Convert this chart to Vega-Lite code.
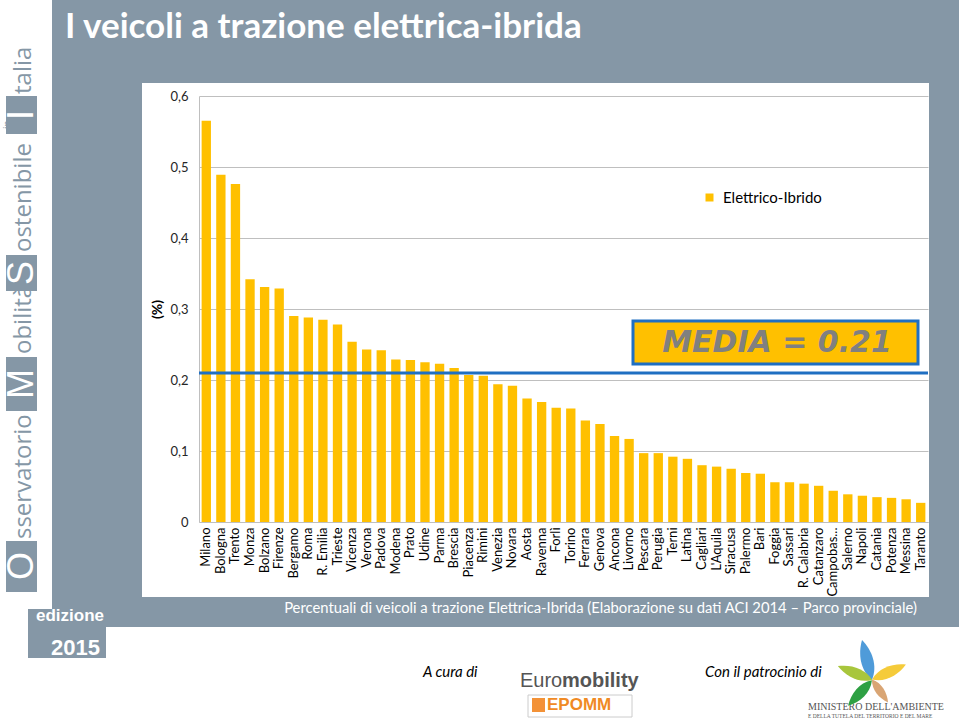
{
  "$schema": "https://vega.github.io/schema/vega-lite/v6.json",
  "width": 729,
  "height": 426,
  "autosize": "none",
  "padding": {"left": 199, "top": 96, "right": 31, "bottom": 197},
  "background": "white",
  "config": {"view": {"stroke": null}, "font": "Lato"},
  "title": {
    "text": "I veicoli a trazione elettrica-ibrida",
    "anchor": "start",
    "frame": "group",
    "dx": -134,
    "offset": -80,
    "baseline": "bottom",
    "color": "white",
    "font": "Lato",
    "fontSize": 35,
    "fontWeight": "bold",
    "zindex": 1
  },
  "data": {
    "values": [
      {"citta": "Milano", "valore": 0.565},
      {"citta": "Bologna", "valore": 0.489},
      {"citta": "Trento", "valore": 0.476},
      {"citta": "Monza", "valore": 0.342},
      {"citta": "Bolzano", "valore": 0.331},
      {"citta": "Firenze", "valore": 0.329},
      {"citta": "Bergamo", "valore": 0.29},
      {"citta": "Roma", "valore": 0.288},
      {"citta": "R. Emilia", "valore": 0.285},
      {"citta": "Trieste", "valore": 0.278},
      {"citta": "Vicenza", "valore": 0.254},
      {"citta": "Verona", "valore": 0.243},
      {"citta": "Padova", "valore": 0.242},
      {"citta": "Modena", "valore": 0.229},
      {"citta": "Prato", "valore": 0.228},
      {"citta": "Udine", "valore": 0.225},
      {"citta": "Parma", "valore": 0.223},
      {"citta": "Brescia", "valore": 0.217},
      {"citta": "Piacenza", "valore": 0.207},
      {"citta": "Rimini", "valore": 0.206},
      {"citta": "Venezia", "valore": 0.194},
      {"citta": "Novara", "valore": 0.192},
      {"citta": "Aosta", "valore": 0.174},
      {"citta": "Ravenna", "valore": 0.169},
      {"citta": "Forlì", "valore": 0.161},
      {"citta": "Torino", "valore": 0.16},
      {"citta": "Ferrara", "valore": 0.143},
      {"citta": "Genova", "valore": 0.138},
      {"citta": "Ancona", "valore": 0.121},
      {"citta": "Livorno", "valore": 0.117},
      {"citta": "Pescara", "valore": 0.097},
      {"citta": "Perugia", "valore": 0.097},
      {"citta": "Terni", "valore": 0.092},
      {"citta": "Latina", "valore": 0.089},
      {"citta": "Cagliari", "valore": 0.08},
      {"citta": "L'Aquila", "valore": 0.078},
      {"citta": "Siracusa", "valore": 0.075},
      {"citta": "Palermo", "valore": 0.069},
      {"citta": "Bari", "valore": 0.068},
      {"citta": "Foggia", "valore": 0.056},
      {"citta": "Sassari", "valore": 0.056},
      {"citta": "R. Calabria", "valore": 0.054},
      {"citta": "Catanzaro", "valore": 0.051},
      {"citta": "Campobasso", "valore": 0.044},
      {"citta": "Salerno", "valore": 0.039},
      {"citta": "Napoli", "valore": 0.037},
      {"citta": "Catania", "valore": 0.035},
      {"citta": "Potenza", "valore": 0.034},
      {"citta": "Messina", "valore": 0.032},
      {"citta": "Taranto", "valore": 0.027}
    ]
  },
  "layer": [
    {
      "data": {"values": [{}]},
      "mark": {"type": "rect", "color": "#8597A6", "clip": false},
      "encoding": {"x": {"value": -147}, "x2": {"value": 760}, "y": {"value": -96}, "y2": {"value": -13}}
    },
    {
      "data": {"values": [{}]},
      "mark": {"type": "rect", "color": "#8597A6", "clip": false},
      "encoding": {"x": {"value": -147}, "x2": {"value": -57}, "y": {"value": -13}, "y2": {"value": 531}}
    },
    {
      "data": {"values": [{}]},
      "mark": {"type": "rect", "color": "#8597A6", "clip": false},
      "encoding": {"x": {"value": 730}, "x2": {"value": 760}, "y": {"value": -13}, "y2": {"value": 531}}
    },
    {
      "data": {"values": [{}]},
      "mark": {"type": "rect", "color": "#8597A6", "clip": false},
      "encoding": {"x": {"value": -57}, "x2": {"value": 730}, "y": {"value": 501}, "y2": {"value": 531}}
    },
    {
      "data": {"values": [{}]},
      "mark": {"type": "rect", "color": "#8597A6", "clip": false},
      "encoding": {"x": {"value": -171}, "x2": {"value": -93}, "y": {"value": 513}, "y2": {"value": 562}}
    },
    {
      "mark": {"type": "bar"},
      "encoding": {
        "x": {
          "field": "citta",
          "type": "nominal",
          "sort": null,
          "scale": {"paddingInner": 0.36, "paddingOuter": 0.18},
          "axis": {
            "title": "Percentuali di veicoli a trazione Elettrica-Ibrida (Elaborazione su dati ACI 2014 – Parco provinciale)",
            "titleColor": "white",
            "titleFont": "Lato",
            "titleFontSize": 14.8,
            "titleFontWeight": "normal",
            "titleX": 401,
            "titleY": 86,
            "titleAlign": "center",
            "titleBaseline": "middle",
            "labelAngle": -90,
            "labelFontSize": 13,
            "labelColor": "black",
            "labelPadding": 5,
            "labelExpr": "datum.label == 'Campobasso' ? 'Campobas...' : datum.label",
            "ticks": false,
            "domainColor": "#BFBFBF",
            "grid": false,
            "zindex": 1
          }
        },
        "y": {
          "field": "valore",
          "type": "quantitative",
          "scale": {"domain": [0, 0.6], "nice": false},
          "axis": {
            "title": "(%)",
            "titleFontWeight": "bold",
            "titleFontSize": 14,
            "titleColor": "black",
            "titleX": -42,
            "titleY": 213,
            "titleAlign": "center",
            "titleBaseline": "middle",
            "values": [0, 0.1, 0.2, 0.3, 0.4, 0.5, 0.6],
            "labelExpr": "datum.value == 0 ? '0' : replace(format(datum.value, '.1f'), '.', ',')",
            "labelFontSize": 13,
            "labelColor": "#262626",
            "labelPadding": 11,
            "ticks": false,
            "domainColor": "#BFBFBF",
            "grid": true,
            "gridColor": "#BFBFBF"
          }
        },
        "color": {
          "datum": "Elettrico-Ibrido",
          "type": "nominal",
          "scale": {"range": ["#FFC000"]},
          "legend": {
            "title": null,
            "orient": "none",
            "legendX": 503,
            "legendY": 94,
            "padding": 0,
            "symbolType": "square",
            "symbolSize": 64,
            "symbolStrokeWidth": 0,
            "labelFont": "Lato",
            "labelFontSize": 15,
            "labelColor": "black",
            "labelOffset": 6
          }
        }
      }
    },
    {
      "data": {"values": [{}]},
      "mark": {"type": "rule", "color": "#1F6FC2", "strokeWidth": 3},
      "encoding": {"y": {"datum": 0.21}}
    },
    {
      "data": {"values": [{}]},
      "mark": {"type": "rect", "fill": "#FFC000", "stroke": "#1F6FC2", "strokeWidth": 3},
      "encoding": {"x": {"value": 434}, "x2": {"value": 719}, "y": {"value": 225}, "y2": {"value": 268}}
    },
    {
      "data": {"values": [{"testo": "MEDIA = 0.21"}]},
      "mark": {"type": "text", "font": "DejaVu Sans", "fontWeight": "bold", "fontStyle": "italic", "fontSize": 30, "color": "#808080", "align": "center", "baseline": "middle"},
      "encoding": {"text": {"field": "testo"}, "x": {"value": 578}, "y": {"value": 247}}
    },
    {
      "data": {"values": [{}]},
      "mark": {"type": "rect", "color": "#8597A6", "clip": false},
      "encoding": {"x": {"value": -193}, "x2": {"value": -162}, "y": {"value": 445}, "y2": {"value": 496}}
    },
    {
      "data": {"values": [{}]},
      "mark": {"type": "rect", "color": "#8597A6", "clip": false},
      "encoding": {"x": {"value": -193}, "x2": {"value": -162}, "y": {"value": 261}, "y2": {"value": 315}}
    },
    {
      "data": {"values": [{}]},
      "mark": {"type": "rect", "color": "#8597A6", "clip": false},
      "encoding": {"x": {"value": -193}, "x2": {"value": -162}, "y": {"value": 159}, "y2": {"value": 195}}
    },
    {
      "data": {"values": [{}]},
      "mark": {"type": "rect", "color": "#8597A6", "clip": false},
      "encoding": {"x": {"value": -193}, "x2": {"value": -162}, "y": {"value": 0}, "y2": {"value": 38}}
    },
    {
      "data": {"values": [{"t": "O"}]},
      "mark": {"type": "text", "font": "Liberation Sans", "fontSize": 36, "color": "white", "angle": -90, "align": "center", "baseline": "middle"},
      "encoding": {"text": {"field": "t"}, "x": {"value": -177}, "y": {"value": 470}}
    },
    {
      "data": {"values": [{"t": "M"}]},
      "mark": {"type": "text", "font": "Liberation Sans", "fontSize": 36, "color": "white", "angle": -90, "align": "center", "baseline": "middle"},
      "encoding": {"text": {"field": "t"}, "x": {"value": -177}, "y": {"value": 288}}
    },
    {
      "data": {"values": [{"t": "S"}]},
      "mark": {"type": "text", "font": "Liberation Sans", "fontSize": 36, "color": "white", "angle": -90, "align": "center", "baseline": "middle"},
      "encoding": {"text": {"field": "t"}, "x": {"value": -177}, "y": {"value": 177}}
    },
    {
      "data": {"values": [{"t": "I"}]},
      "mark": {"type": "text", "font": "Liberation Sans", "fontSize": 36, "color": "white", "angle": -90, "align": "center", "baseline": "middle"},
      "encoding": {"text": {"field": "t"}, "x": {"value": -177}, "y": {"value": 19}}
    },
    {
      "data": {"values": [{"t": "sservatorio"}]},
      "mark": {"type": "text", "font": "Open Sans", "fontSize": 24, "color": "#8597A6", "angle": -90, "align": "left", "baseline": "middle"},
      "encoding": {"text": {"field": "t"}, "x": {"value": -175}, "y": {"value": 443}}
    },
    {
      "data": {"values": [{"t": "obilità"}]},
      "mark": {"type": "text", "font": "Open Sans", "fontSize": 24, "color": "#8597A6", "angle": -90, "align": "left", "baseline": "middle"},
      "encoding": {"text": {"field": "t"}, "x": {"value": -175}, "y": {"value": 258}}
    },
    {
      "data": {"values": [{"t": "ostenibile"}]},
      "mark": {"type": "text", "font": "Open Sans", "fontSize": 24, "color": "#8597A6", "angle": -90, "align": "left", "baseline": "middle"},
      "encoding": {"text": {"field": "t"}, "x": {"value": -175}, "y": {"value": 156}}
    },
    {
      "data": {"values": [{"t": "in"}]},
      "mark": {"type": "text", "font": "Open Sans", "fontSize": 10, "color": "#8597A6", "angle": -90, "align": "left", "baseline": "middle"},
      "encoding": {"text": {"field": "t"}, "x": {"value": -191}, "y": {"value": 33}}
    },
    {
      "data": {"values": [{"t": "talia"}]},
      "mark": {"type": "text", "font": "Open Sans", "fontSize": 24, "color": "#8597A6", "angle": -90, "align": "left", "baseline": "middle"},
      "encoding": {"text": {"field": "t"}, "x": {"value": -175}, "y": {"value": -2}}
    },
    {
      "data": {"values": [{"t": "edizione"}]},
      "mark": {"type": "text", "font": "Liberation Sans", "fontSize": 17, "fontWeight": "bold", "color": "white", "align": "left", "baseline": "middle"},
      "encoding": {"text": {"field": "t"}, "x": {"value": -163}, "y": {"value": 520}}
    },
    {
      "data": {"values": [{"t": "2015"}]},
      "mark": {"type": "text", "font": "Liberation Sans", "fontSize": 22, "fontWeight": "bold", "color": "white", "align": "right", "baseline": "middle"},
      "encoding": {"text": {"field": "t"}, "x": {"value": -99}, "y": {"value": 552}}
    },
    {
      "data": {"values": [{"t": "A cura di"}]},
      "mark": {"type": "text", "font": "Lato", "fontSize": 15, "fontStyle": "italic", "color": "black", "align": "left", "baseline": "middle"},
      "encoding": {"text": {"field": "t"}, "x": {"value": 224}, "y": {"value": 576}}
    },
    {
      "data": {"values": [{"t": "Con il patrocinio di"}]},
      "mark": {"type": "text", "font": "Lato", "fontSize": 15, "fontStyle": "italic", "color": "black", "align": "left", "baseline": "middle"},
      "encoding": {"text": {"field": "t"}, "x": {"value": 506}, "y": {"value": 576}}
    },
    {
      "data": {"values": [{"t": "Euro"}]},
      "mark": {"type": "text", "font": "Liberation Sans", "fontSize": 20, "color": "#555555", "align": "left", "baseline": "middle"},
      "encoding": {"text": {"field": "t"}, "x": {"value": 321}, "y": {"value": 585}}
    },
    {
      "data": {"values": [{"t": "mobility"}]},
      "mark": {"type": "text", "font": "Liberation Sans", "fontSize": 20, "fontWeight": "bold", "color": "#555555", "align": "left", "baseline": "middle"},
      "encoding": {"text": {"field": "t"}, "x": {"value": 363}, "y": {"value": 585}}
    },
    {
      "data": {"values": [{}]},
      "mark": {"type": "rect", "fill": "white", "stroke": "#CCCCCC", "strokeWidth": 1},
      "encoding": {"x": {"value": 329}, "x2": {"value": 433}, "y": {"value": 599}, "y2": {"value": 621}}
    },
    {
      "data": {"values": [{}]},
      "mark": {"type": "rect", "fill": "#F39237"},
      "encoding": {"x": {"value": 333}, "x2": {"value": 346}, "y": {"value": 602}, "y2": {"value": 616}}
    },
    {
      "data": {"values": [{"t": "EPOMM"}]},
      "mark": {"type": "text", "font": "Liberation Sans", "fontSize": 17, "fontWeight": "bold", "color": "#F08A24", "align": "left", "baseline": "middle"},
      "encoding": {"text": {"field": "t"}, "x": {"value": 348}, "y": {"value": 609}}
    },
    {
      "data": {"values": [{"t": "MINISTERO DELL'AMBIENTE"}]},
      "mark": {"type": "text", "font": "Liberation Serif", "fontSize": 10, "color": "#555555", "align": "left", "baseline": "middle"},
      "encoding": {"text": {"field": "t"}, "x": {"value": 609}, "y": {"value": 611}}
    },
    {
      "data": {"values": [{"t": "E DELLA TUTELA DEL TERRITORIO E DEL MARE"}]},
      "mark": {"type": "text", "font": "Liberation Serif", "fontSize": 5.5, "color": "#555555", "align": "left", "baseline": "middle"},
      "encoding": {"text": {"field": "t"}, "x": {"value": 609}, "y": {"value": 620}}
    },
    {
      "data": {"values": [{}]},
      "mark": {"type": "point", "filled": true, "opacity": 1, "color": "#4F9BD9", "shape": "M0,1 C0.45,0.4 0.35,-0.4 0,-1 C-0.35,-0.4 -0.45,0.4 0,1 Z", "size": 1681, "angle": -14},
      "encoding": {"x": {"value": 668}, "y": {"value": 564}}
    },
    {
      "data": {"values": [{}]},
      "mark": {"type": "point", "filled": true, "opacity": 1, "color": "#F5CB3A", "shape": "M0,1 C0.45,0.4 0.35,-0.4 0,-1 C-0.35,-0.4 -0.45,0.4 0,1 Z", "size": 1369, "angle": 66},
      "encoding": {"x": {"value": 690}, "y": {"value": 576}}
    },
    {
      "data": {"values": [{}]},
      "mark": {"type": "point", "filled": true, "opacity": 1, "color": "#D9A574", "shape": "M0,1 C0.45,0.4 0.35,-0.4 0,-1 C-0.35,-0.4 -0.45,0.4 0,1 Z", "size": 784, "angle": 145},
      "encoding": {"x": {"value": 681}, "y": {"value": 595}}
    },
    {
      "data": {"values": [{}]},
      "mark": {"type": "point", "filled": true, "opacity": 1, "color": "#2EA043", "shape": "M0,1 C0.45,0.4 0.35,-0.4 0,-1 C-0.35,-0.4 -0.45,0.4 0,1 Z", "size": 1225, "angle": -137},
      "encoding": {"x": {"value": 661}, "y": {"value": 597}}
    },
    {
      "data": {"values": [{}]},
      "mark": {"type": "point", "filled": true, "opacity": 1, "color": "#A8C63C", "shape": "M0,1 C0.45,0.4 0.35,-0.4 0,-1 C-0.35,-0.4 -0.45,0.4 0,1 Z", "size": 1369, "angle": -68},
      "encoding": {"x": {"value": 656}, "y": {"value": 577}}
    }
  ]
}
